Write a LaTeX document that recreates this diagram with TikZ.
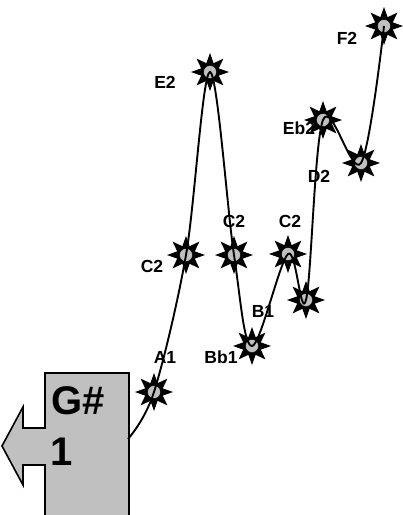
\documentclass[tikz,border=0pt]{standalone}
\usepackage{fontspec}
\setmainfont{Liberation Sans}
\usetikzlibrary{shapes.geometric}
\definecolor{boxgray}{RGB}{192,192,192}
\tikzset{
  mark star/.style={star, star points=8, star point ratio=2.0, fill=black, minimum size=38pt, inner sep=0pt},
  mark dot/.style={circle, fill=boxgray, draw=black, line width=0.4pt, minimum size=13pt, inner sep=0pt},
  notelabel/.style={font=\bfseries\fontsize{17.5pt}{17.5pt}\selectfont, inner sep=0pt},
  boxtext/.style={font=\bfseries\fontsize{40pt}{40pt}\selectfont, inner sep=0pt},
}
\begin{document}
\begin{tikzpicture}[x=1pt,y=-1pt]
\useasboundingbox (0,0) rectangle (403,515);
% box with left arrow
\begin{scope}
\clip (0,0) rectangle (403,515);
\fill[boxgray] (45,520) -- (45,465) -- (23,465) -- (23,485) -- (2,446) -- (23,407) -- (23,428) -- (45,428) -- (45,373) -- (129,373) -- (129,520) -- cycle;
\draw[line width=1.6pt] (45,520) -- (45,465) -- (23,465) -- (23,485) -- (2,446) -- (23,407) -- (23,428) -- (45,428) -- (45,373) -- (129,373) -- (129,520);
\end{scope}
\node[boxtext] (g) at (78.5,401) {G\#};
\node[boxtext] (one) at (62,452) {1};
\coordinate (s) at (128,439);
% marker positions
\coordinate (p1) at (154,392);
\coordinate (p2) at (186,255);
\coordinate (p3) at (210,72);
\coordinate (p4) at (234,255);
\coordinate (p5) at (252,346);
\coordinate (p6) at (288,254);
\coordinate (p7) at (306,300);
\coordinate (p8) at (323,120);
\coordinate (p9) at (361,163);
\coordinate (p10) at (384,26);
\foreach \i in {1,...,10}{
  \node[mark star] (m\i) at (p\i) {};
  \node[mark dot] (d\i) at (p\i) {};
}
\draw[line width=1.9pt] plot[smooth, tension=0.55] coordinates {(s) (p1) (p2) (p3) (p4) (p5) (p6) (p7) (p8) (p9) (p10)};
% labels
\node[notelabel] (la1) at (165,357) {A1};
\node[notelabel] (lc2a) at (152,266) {C2};
\node[notelabel] (le2) at (165,82.5) {E2};
\node[notelabel] (lc2b) at (234,221) {C2};
\node[notelabel] (lbb1) at (221,357) {Bb1};
\node[notelabel] (lb1) at (263,311) {B1};
\node[notelabel] (lc2c) at (290,221) {C2};
\node[notelabel] (ld2) at (319,176) {D2};
\node[notelabel] (leb2) at (299,128) {Eb2};
\node[notelabel] (lf2) at (347,38) {F2};
\end{tikzpicture}
\end{document}
